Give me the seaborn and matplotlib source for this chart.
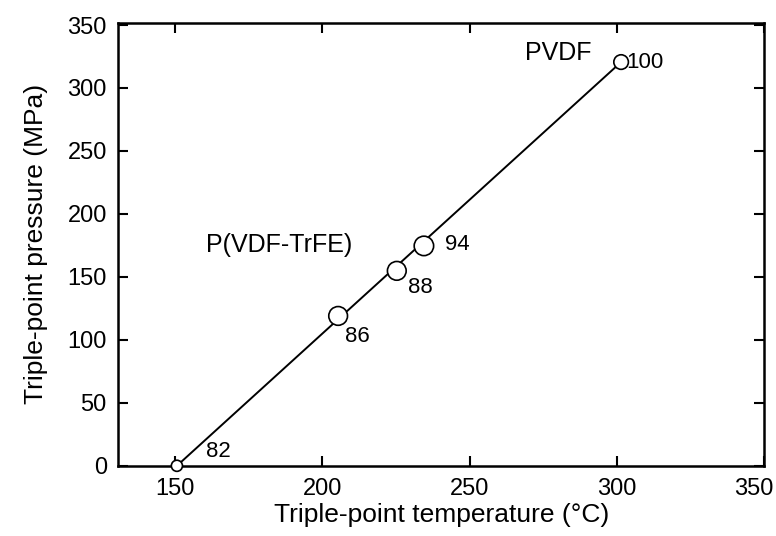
#!/usr/bin/env python3
"""Triple-point pressure vs triple-point temperature for PVDF and P(VDF-TrFE)."""
import matplotlib; matplotlib.use('Agg')
import matplotlib.pyplot as plt
import matplotlib.transforms as mtrans
import pandas as pd
import seaborn as sns

# VDF content (mol%) of each sample, with its triple point
vdf_content = ["82", "86", "88", "94", "100"]
temperature = [150.7, 205.4, 225.3, 234.5, 301.4]   # degC
pressure = [0.0, 119.0, 154.8, 174.6, 320.6]         # MPa

x_ticks = [150, 200, 250, 300, 350]
y_ticks = [0, 50, 100, 150, 200, 250, 300, 350]

# marker diameter (points) and label offset (points) per sample
marker_pt = {"82": 8, "86": 13.5, "88": 13.5, "94": 14, "100": 10.5}
label_off = {"82": (30, 10), "86": (14, -15), "88": (17, -12), "94": (24, 1), "100": (17, 0)}


def main():
    df = pd.DataFrame({"vdf": vdf_content, "T": temperature, "P": pressure})

    sns.set_style("ticks")
    plt.rcParams['font.family'] = ['Liberation Sans', 'DejaVu Sans']
    plt.rcParams['text.color'] = 'black'
    plt.rcParams['axes.labelcolor'] = 'black'

    fig = plt.figure(figsize=(7.76, 5.36), dpi=100)
    ax = fig.add_axes([0.152, 0.131, 0.833, 0.827])

    # straight line from the 82 % copolymer to PVDF
    ends = df.iloc[[0, -1]]
    sns.lineplot(data=ends, x="T", y="P", color="black", linewidth=1.4, ax=ax, zorder=2)

    sizes = {k: v ** 2 for k, v in marker_pt.items()}
    sns.scatterplot(data=df, x="T", y="P", size="vdf", sizes=sizes, legend=False,
                    facecolor="white", edgecolor="black", linewidth=1.2, ax=ax,
                    zorder=3, clip_on=False)

    for lab, t, p in zip(vdf_content, temperature, pressure):
        ax.annotate(lab, (t, p), xytext=label_off[lab], textcoords="offset points",
                    ha="center", va="center", fontsize=16)

    ax.text(280, 328, "PVDF", ha="center", va="center", fontsize=18)
    ax.text(185.5, 175.5, "P(VDF-TrFE)", ha="center", va="center", fontsize=18)

    ax.set_xlim(130.7, 349.8)
    ax.set_ylim(0, 352)
    ax.set_xticks(x_ticks)
    ax.set_yticks(y_ticks)
    ax.tick_params(direction="in", length=7, width=1.5, labelsize=17,
                   top=True, right=True, colors="black")
    ax.tick_params(axis="x", pad=9)
    ax.tick_params(axis="y", pad=8)
    # keep the last x label inside the figure
    last = ax.get_xticklabels()[-1]
    last.set_transform(last.get_transform() +
                       mtrans.ScaledTranslation(-11 / 100, 0, fig.dpi_scale_trans))
    for s in ax.spines.values():
        s.set_linewidth(1.8)
        s.set_color("black")
    ax.set_xlabel("Triple-point temperature (°C)", fontsize=19, labelpad=2)
    ax.set_ylabel("Triple-point pressure (MPa)", fontsize=19, labelpad=14)

    fig.savefig("out.png", dpi=100)
    plt.close(fig)


if __name__ == "__main__":
    main()
